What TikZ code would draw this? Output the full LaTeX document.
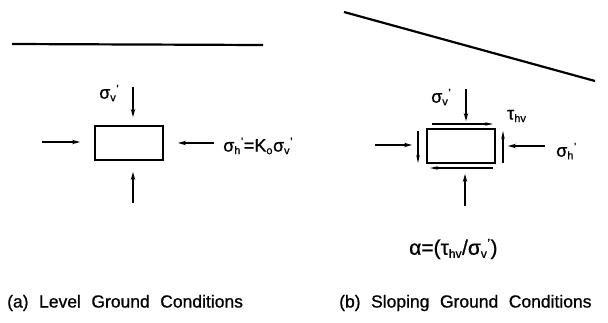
\documentclass[tikz,border=0pt]{standalone}
\usepackage{fontspec}
\setmainfont{Liberation Sans}[FakeBold=0.8]
\usetikzlibrary{arrows.meta}
\tikzset{
  lbl/.style={inner sep=0pt, anchor=west, font=\fontsize{18}{20}\selectfont},
  biglbl/.style={inner sep=0pt, anchor=west, font=\fontsize{21}{24}\selectfont},
  captxt/.style={inner sep=0pt, anchor=west, font=\fontsize{17.5}{20}\selectfont},
  elem/.style={draw, line width=2pt, minimum width=68pt, minimum height=34pt, inner sep=0pt},
  force/.style={line width=1.2pt, -{Stealth[length=8pt,width=4.5pt]}},
  shear/.style={line width=1.1pt, -{Stealth[length=8pt,width=3.5pt]}},
  ground/.style={line width=2.2pt}
}
\newcommand{\mysub}[1]{\textsubscript{\fontsize{11}{11}\selectfont #1}}
\newcommand{\mypr}{\textsuperscript{\fontsize{11}{11}\selectfont '}}
\newcommand{\mybsub}[1]{\textsubscript{\fontsize{12}{12}\selectfont #1}}
\newcommand{\mybpr}{\textsuperscript{\fontsize{12}{12}\selectfont '}}
\begin{document}
\begin{tikzpicture}[x=1pt,y=-1pt]
\useasboundingbox (0,0) rectangle (608,322);
% ---------- (a) level ground ----------
\coordinate (g1) at (12,44);
\coordinate (g2) at (263,45);
\draw[ground] (g1) -- (g2);
\node[elem] (boxa) at (129,143) {};
\coordinate (a-top) at (133,87);
\coordinate (a-bot) at (133,203);
\coordinate (a-left) at (42,142);
\coordinate (a-right) at (214,143);
\draw[force] (a-top) -- (133,117);
\draw[force] (a-bot) -- (133,172);
\draw[force] (a-left) -- (80,142);
\draw[force] (a-right) -- (178,143);
\node[lbl] (sva) at (99,93) {σ\mysub{v}\mypr};
\node[lbl] (sha) at (223,146) {σ\mysub{h}\mypr=K\mysub{o}σ\mysub{v}\mypr};
\node[captxt] (capa) at (7,303) {(a)\hspace{0.6em}Level\hspace{0.6em}Ground\hspace{0.6em}Conditions};
% ---------- (b) sloping ground ----------
\coordinate (s1) at (344,12);
\coordinate (s2) at (595,81);
\draw[ground] (s1) -- (s2);
\node[elem] (boxb) at (461,146) {};
\coordinate (b-top) at (466,89);
\coordinate (b-bot) at (465,206);
\coordinate (b-left) at (375,145);
\coordinate (b-right) at (545,146);
\draw[force] (b-top) -- (466,121);
\draw[force] (b-bot) -- (465,174);
\draw[force] (b-left) -- (412,145);
\draw[force] (b-right) -- (508,146);
% shear stresses
\coordinate (t1) at (432,124);
\coordinate (t2) at (493,124);
\coordinate (u1) at (493,168);
\coordinate (u2) at (430,168);
\coordinate (l1) at (418,131);
\coordinate (l2) at (418,163);
\coordinate (r1) at (503,163);
\coordinate (r2) at (503,131);
\draw[shear] (t1) -- (t2);
\draw[shear] (u1) -- (u2);
\draw[shear] (l1) -- (l2);
\draw[shear] (r1) -- (r2);
\node[lbl] (svb) at (431,97) {σ\mysub{v}\mypr};
\node[lbl] (tau) at (507,116) {τ\mysub{hv}};
\node[lbl] (shb) at (556,151) {σ\mysub{h}\mypr};
\node[biglbl] (alpha) at (409,249) {α=(τ\mybsub{hv}/σ\mybsub{v}\mybpr)};
\node[captxt] (capb) at (339,303) {(b)\hspace{0.6em}Sloping\hspace{0.6em}Ground\hspace{0.6em}Conditions};
\end{tikzpicture}
\end{document}
